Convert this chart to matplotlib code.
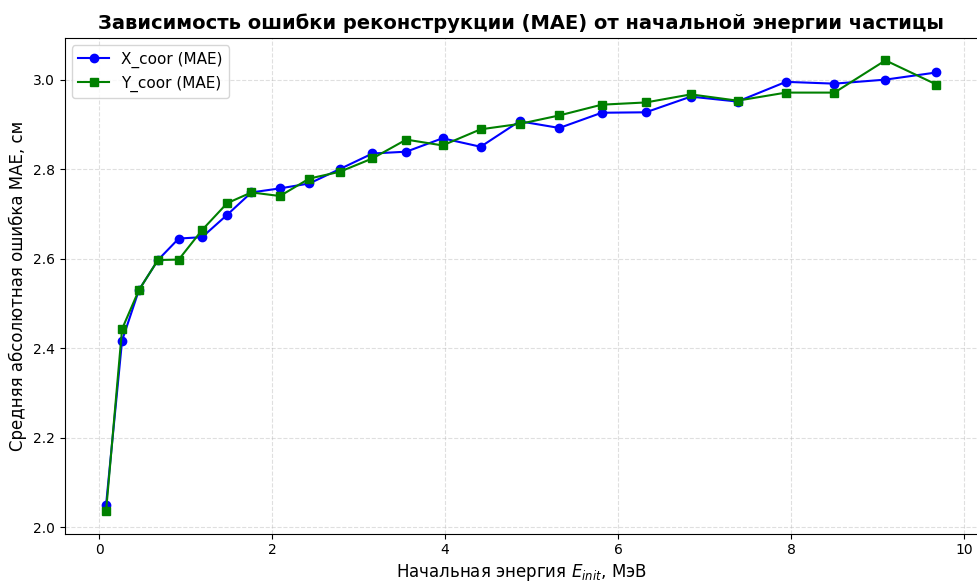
import numpy as np
import matplotlib
matplotlib.use("Agg")
import matplotlib.pyplot as plt

# bin centres of initial energy, MeV
energy = [0.08, 0.265, 0.46, 0.68, 0.92, 1.19, 1.48, 1.76, 2.09, 2.43,
          2.78, 3.16, 3.55, 3.97, 4.41, 4.86, 5.32, 5.81, 6.32, 6.84,
          7.38, 7.94, 8.50, 9.09, 9.68]

# mean absolute error per bin, cm
mae_x = [2.050, 2.417, 2.530, 2.597, 2.645, 2.648, 2.698, 2.748, 2.757, 2.768,
         2.800, 2.835, 2.839, 2.869, 2.850, 2.907, 2.892, 2.926, 2.927, 2.962,
         2.951, 2.995, 2.991, 3.000, 3.016]
mae_y = [2.036, 2.443, 2.530, 2.597, 2.598, 2.664, 2.724, 2.748, 2.740, 2.779,
         2.794, 2.824, 2.866, 2.853, 2.889, 2.901, 2.920, 2.944, 2.949, 2.967,
         2.953, 2.971, 2.971, 3.043, 2.989]

fig = plt.figure(figsize=(9.78, 5.82), dpi=100)
ax = fig.add_subplot(111)
fig.subplots_adjust(left=0.066, right=1.0, top=0.935, bottom=0.083)

ax.plot(energy, mae_x, 'b-o', lw=1.5, ms=6, label='X_coor (MAE)')
ax.plot(energy, mae_y, 'g-s', lw=1.5, ms=6, label='Y_coor (MAE)')

ax.set_title('Зависимость ошибки реконструкции (MAE) от начальной энергии частицы',
             fontsize=14, fontweight='bold')
ax.set_xlabel('Начальная энергия $E_{init}$, МэВ', fontsize=12, labelpad=3)
ax.set_ylabel('Средняя абсолютная ошибка MAE, см', fontsize=12)
ax.grid(True, linestyle='--', alpha=0.4)
ax.legend(loc='upper left', fontsize=11)

fig.savefig('out.png', dpi=100)
